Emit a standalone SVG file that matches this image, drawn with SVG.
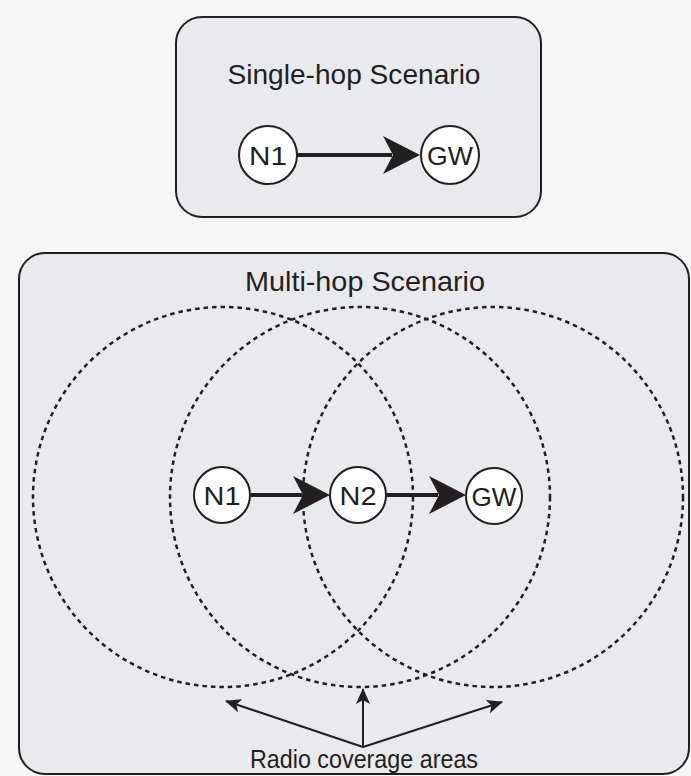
<svg xmlns="http://www.w3.org/2000/svg" width="691" height="776" viewBox="0 0 691 776">
<style>
.box{fill:#e9eaee;stroke:#231f20;stroke-width:2}
.title{font-family:"Liberation Sans",Arial,sans-serif;font-size:28px;fill:#231f20;text-anchor:middle}
.lbl{font-family:"Liberation Sans",Arial,sans-serif;font-size:26px;fill:#231f20;text-anchor:middle}
.cap{font-family:"Liberation Sans",Arial,sans-serif;font-size:25px;fill:#231f20;text-anchor:middle}
.node circle{fill:#ffffff;stroke:#231f20;stroke-width:2}
.range{fill:none;stroke:#231f20;stroke-width:2.5;stroke-dasharray:4.5 4}
.link{stroke:#231f20;stroke-width:4;fill:none}
.head{fill:#231f20}
.thin{stroke:#231f20;stroke-width:2;fill:none}
</style>
<defs>
<marker id="sm" viewBox="0 0 16 14" refX="15" refY="7" markerWidth="16" markerHeight="14" markerUnits="userSpaceOnUse" orient="auto">
<path d="M0,0 L16,7 L0,14 L4,7 Z" fill="#231f20"/>
</marker>
</defs>
<rect width="691" height="776" fill="#f6f6f6"/>
<g id="single-box">
<rect class="box" x="176" y="17" width="365" height="200" rx="26"/>
<text class="title" x="354" y="84" textLength="253" lengthAdjust="spacingAndGlyphs">Single-hop Scenario</text>
</g>
<g id="multi-box">
<rect class="box" x="19" y="253" width="670" height="521" rx="26"/>
<text class="title" x="365" y="291" textLength="240" lengthAdjust="spacingAndGlyphs">Multi-hop Scenario</text>
</g>
<g id="coverage">
<ellipse class="range" cx="223" cy="497" rx="190" ry="190"/>
<ellipse class="range" cx="360" cy="497" rx="190" ry="190"/>
<ellipse class="range" cx="493" cy="497" rx="190" ry="190"/>
</g>
<g id="connectors">
<line class="link" x1="297" y1="155" x2="392" y2="155"/>
<path class="head" d="M420,155 L383,136 L393,155 L383,174 Z"/>
<line class="link" x1="251" y1="495" x2="302" y2="495"/>
<path class="head" d="M330,495 L293,476 L303,495 L293,514 Z"/>
<line class="link" x1="386" y1="495" x2="438" y2="495"/>
<path class="head" d="M466,495 L429,476 L439,495 L429,514 Z"/>
<line class="thin" x1="363" y1="747" x2="226" y2="701" marker-end="url(#sm)"/>
<line class="thin" x1="363" y1="747" x2="363" y2="689" marker-end="url(#sm)"/>
<line class="thin" x1="363" y1="747" x2="502" y2="702" marker-end="url(#sm)"/>
</g>
<g id="n1-single" class="node">
<circle cx="268" cy="155" r="29"/>
<text class="lbl" x="268" y="165" textLength="38" lengthAdjust="spacingAndGlyphs">N1</text>
</g>
<g id="gw-single" class="node">
<circle cx="450" cy="155" r="29"/>
<text class="lbl" x="450" y="165" textLength="46" lengthAdjust="spacingAndGlyphs">GW</text>
</g>
<g id="n1-multi" class="node">
<circle cx="222" cy="495" r="28"/>
<text class="lbl" x="222" y="505" textLength="37" lengthAdjust="spacingAndGlyphs">N1</text>
</g>
<g id="n2-multi" class="node">
<circle cx="358" cy="495" r="28"/>
<text class="lbl" x="358" y="505" textLength="37" lengthAdjust="spacingAndGlyphs">N2</text>
</g>
<g id="gw-multi" class="node">
<circle cx="494" cy="496" r="28"/>
<text class="lbl" x="494" y="506" textLength="45" lengthAdjust="spacingAndGlyphs">GW</text>
</g>
<g id="caption">
<text class="cap" x="364" y="768" textLength="228" lengthAdjust="spacingAndGlyphs">Radio coverage areas</text>
</g>
</svg>
